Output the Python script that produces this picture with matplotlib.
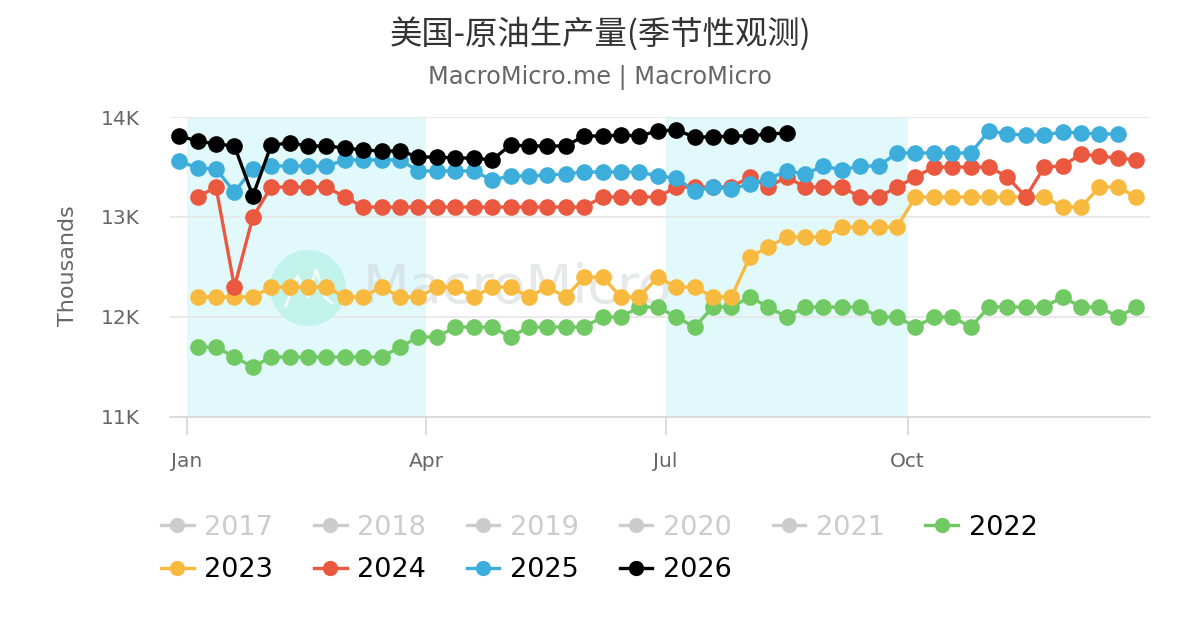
import numpy as np
import pandas as pd
import matplotlib
matplotlib.use('Agg')
import matplotlib.pyplot as plt
from matplotlib.lines import Line2D
from matplotlib.patches import Ellipse

plt.rcParams['font.family'] = ['DejaVu Sans', 'Noto Sans CJK SC']

# weekly crude oil production, thousand b/d
y2022 = [11700, 11700, 11600, 11500, 11600, 11600, 11600, 11600, 11600, 11600, 11600, 11700, 11800,
         11800, 11900, 11900, 11900, 11800, 11900, 11900, 11900, 11900, 12000, 12000, 12100, 12100,
         12000, 11900, 12100, 12100, 12200, 12100, 12000, 12100, 12100, 12100, 12100, 12000, 12000,
         11900, 12000, 12000, 11900, 12100, 12100, 12100, 12100, 12200, 12100, 12100, 12000, 12100]
y2023 = [12200, 12200, 12200, 12200, 12300, 12300, 12300, 12300, 12200, 12200, 12300, 12200, 12200,
         12300, 12300, 12200, 12300, 12300, 12200, 12300, 12200, 12400, 12400, 12200, 12200, 12400,
         12300, 12300, 12200, 12200, 12600, 12700, 12800, 12800, 12800, 12900, 12900, 12900, 12900,
         13200, 13200, 13200, 13200, 13200, 13200, 13200, 13200, 13100, 13100, 13300, 13300, 13200]
y2024 = [13200, 13300, 12300, 13000, 13300, 13300, 13300, 13300, 13200, 13100, 13100, 13100, 13100,
         13100, 13100, 13100, 13100, 13100, 13100, 13100, 13100, 13100, 13200, 13200, 13200, 13200,
         13300, 13300, 13300, 13300, 13400, 13300, 13400, 13300, 13300, 13300, 13200, 13200, 13300,
         13400, 13500, 13500, 13500, 13500, 13400, 13200, 13500, 13510, 13630, 13610, 13590, 13570]
y2025 = [13560, 13490, 13480, 13250, 13480, 13510, 13510, 13510, 13510, 13570, 13570, 13570, 13570,
         13460, 13460, 13460, 13460, 13370, 13410, 13410, 13420, 13430, 13450, 13450, 13450, 13450,
         13410, 13390, 13260, 13300, 13280, 13330, 13380, 13460, 13430, 13510, 13470, 13510, 13510,
         13640, 13640, 13640, 13640, 13640, 13860, 13830, 13820, 13820, 13850, 13840, 13830, 13830]
y2026 = [13810, 13760, 13730, 13710, 13210, 13720, 13740, 13710, 13710, 13690, 13670, 13660, 13660,
         13600, 13600, 13590, 13590, 13570, 13720, 13710, 13710, 13710, 13810, 13810, 13820, 13810,
         13860, 13870, 13800, 13800, 13810, 13810, 13830, 13840]

years = ['2022', '2023', '2024', '2025', '2026']
values = [y2022, y2023, y2024, y2025, y2026]
# first week, placed on a common (leap) base year
first_week = ['2024-01-05', '2024-01-05', '2024-01-05', '2023-12-29', '2023-12-29']
colors = ['#70c963', '#f7ba3e', '#ea583f', '#3daedb', '#000000']
hidden_years = ['2017', '2018', '2019', '2020', '2021']
month_ticks = ['2024-01-01', '2024-04-01', '2024-07-01', '2024-10-01']
month_labels = ['Jan', 'Apr', 'Jul', 'Oct']

fig = plt.figure(figsize=(12, 6.3), dpi=100)
ax = fig.add_axes([170 / 1200, 1 - 417 / 630, 980 / 1200, 300 / 630])

# shaded quarters
ax.axvspan(pd.Timestamp('2024-01-01'), pd.Timestamp('2024-04-01'), color='#e2f9fb', lw=0, zorder=0)
ax.axvspan(pd.Timestamp('2024-07-01'), pd.Timestamp('2024-10-01'), color='#e2f9fb', lw=0, zorder=0)

# watermark
ax.add_patch(Ellipse((0.1408, 0.43), 76 / 980, 76 / 300, transform=ax.transAxes,
                     color='#bff3e9', alpha=0.9, lw=0, zorder=1))
ax.plot([0.118, 0.13, 0.141, 0.149, 0.158, 0.165], [0.37, 0.47, 0.40, 0.49, 0.40, 0.38],
        transform=ax.transAxes, color='white', lw=2, alpha=0.8, zorder=1)
ax.text(0.197, 0.43, 'MacroMicro', transform=ax.transAxes, fontsize=39, color='#c8ced2',
        alpha=0.45, ha='left', va='center', zorder=1)

for i, yr in enumerate(years):
    x = pd.date_range(first_week[i], periods=len(values[i]), freq='7D')
    ax.plot(x, values[i], color=colors[i], lw=2.4, marker='o', markersize=12,
            markeredgewidth=0, zorder=3 + i)

ax.set_ylim(11000, 14000)
ax.set_xlim(pd.Timestamp('2023-12-25 12:00'), pd.Timestamp('2025-01-01 05:00'))
ax.set_yticks([11000, 12000, 13000, 14000])
ax.set_yticklabels(['11K', '12K', '13K', '14K'])
ax.grid(axis='y', color='#e6e6e6', lw=1.2)
ax.set_axisbelow(True)

ax.set_xticks(pd.to_datetime(month_ticks))
ax.set_xticklabels(month_labels)
ax.tick_params(axis='x', length=13, width=1.2, color='#d6d6d6', pad=12, labelsize=14.5,
               labelcolor='#666666')
ax.tick_params(axis='y', length=0, pad=22, labelsize=14.5, labelcolor='#666666')

for s in ['top', 'right', 'left']:
    ax.spines[s].set_visible(False)
ax.spines['bottom'].set_color('#d6d6d6')
ax.spines['bottom'].set_linewidth(1.2)

fig.text(68 / 1200, 1 - 266 / 630, 'Thousands', rotation=90, fontsize=16, color='#666666',
         ha='center', va='center')

fig.text(0.5, 1 - 34 / 630, '美国-原油生产量(季节性观测)', fontsize=23.3,
         family=['Noto Sans CJK SC', 'DejaVu Sans'], color='#333333', ha='center', va='center')
fig.text(0.5, 1 - 77 / 630, 'MacroMicro.me | MacroMicro', fontsize=17.3, color='#666666',
         ha='center', va='center')

# legend: hidden years greyed out, laid out column by column
def handle(c):
    return Line2D([], [], color=c, lw=2.4, marker='o', markersize=11, markeredgewidth=0)

handles, labels = [], []
order = [('2017', '2023'), ('2018', '2024'), ('2019', '2025'), ('2020', '2026'), ('2021',), ('2022',)]
for col in order:
    for yr in col:
        if yr in hidden_years:
            handles.append(handle('#cccccc'))
        else:
            handles.append(handle(colors[years.index(yr)]))
        labels.append(yr)

leg = fig.legend(handles, labels, ncol=6, loc='center', bbox_to_anchor=(0.4995, 1 - 549 / 630),
                 frameon=False, fontsize=19.5, handlelength=1.2, handletextpad=0.4,
                 columnspacing=1.5, labelspacing=0.62)
for t in leg.get_texts():
    t.set_color('#cccccc' if t.get_text() in hidden_years else '#000000')

fig.savefig('out.png', dpi=100)
